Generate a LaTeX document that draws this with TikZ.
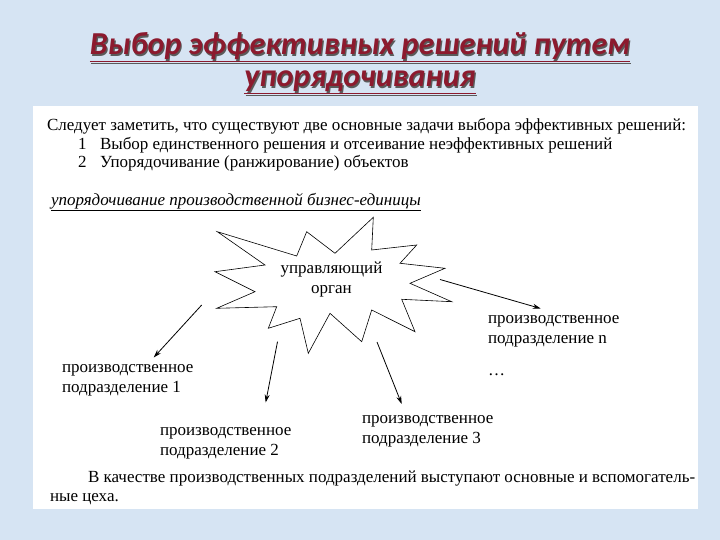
\documentclass[tikz,border=0pt]{standalone}
\usepackage{fontspec}
\setmainfont{Liberation Serif}
\newfontfamily\titlefont{Carlito}
\usetikzlibrary{arrows.meta}

\definecolor{slidebg}{RGB}{214,228,243}
\definecolor{titlered}{RGB}{140,26,46}
\definecolor{titleshade}{RGB}{90,90,90}

\begin{document}
\begin{tikzpicture}[x=1pt,y=-1pt]
	\tikzstyle{every node}=[inner sep=0pt,outer sep=0pt]
	\tikzstyle{headline}=[font=\titlefont\bfseries\itshape\fontsize{32}{38}\selectfont,anchor=base]
	\tikzstyle{body}=[font=\fontsize{17}{20}\selectfont,anchor=base west]
	\tikzstyle{unit}=[font=\fontsize{17}{20}\selectfont,align=left,anchor=base west]
	\tikzstyle{link}=[-{Stealth[length=8pt,width=5pt]},line width=0.8pt]
	
	%% slide
	\useasboundingbox (0,0) rectangle (720,540);
	\fill [slidebg] (0,0) rectangle (720,540);
	\fill [white] (33,106) rectangle (698,509);
	
	%% title
	\node [headline,text=titleshade] at (361.2,56.2) {\underline{Выбор эффективных решений путем}};
	\node [headline,text=titlered] (title1) at (360,55) {\underline{Выбор эффективных решений путем}};
	\node [headline,text=titleshade] at (361.2,88.2) {\underline{упорядочивания}};
	\node [headline,text=titlered] (title2) at (360,87) {\underline{упорядочивания}};
	
	%% text above the scheme
	\node [body] (intro) at (47,131) {Следует заметить, что существуют две основные задачи выбора эффективных решений:};
	\node [body] (num1) at (78,150) {1};
	\node [body] (task1) at (100,150) {Выбор единственного решения и отсеивание неэффективных решений};
	\node [body] (num2) at (78,168) {2};
	\node [body] (task2) at (100,168) {Упорядочивание (ранжирование) объектов};
	\node [body,font=\fontsize{17}{20}\selectfont\itshape] (head) at (51,205.5) {\underline{упорядочивание производственной бизнес-единицы}};
	
	%% star
	\draw [line width=0.6pt] (217.3,231.7) -- (296.7,256) -- (306.7,231.7) -- (335,253.3)
		-- (373.3,217.3) -- (371.7,250) -- (416.7,245) -- (400,263.3)
		-- (445,268.3) -- (410,283.3) -- (451.7,301.7) -- (401.7,299.3)
		-- (415,331.7) -- (371.7,310) -- (361.7,341.7) -- (330,313.3)
		-- (308.3,353.3) -- (300,318.3) -- (268.3,328.3) -- (276.7,306.7)
		-- (216.7,308.3) -- (255,291.7) -- (215,271.7) -- (265,265) -- cycle;
	\node [unit,align=center,anchor=base] (organ) at (331.5,293.5) {управляющий\\орган};
	
	%% units (base = last line)
	\node [unit] (unit1) at (62,392.5) {производственное\\подразделение 1};
	\node [unit] (unit2) at (160,455.5) {производственное\\подразделение 2};
	\node [unit] (unit3) at (362,443) {производственное\\подразделение 3};
	\node [unit] (unitn) at (488,343.5) {производственное\\подразделение n};
	\node [body] (dots) at (488,375) {\dots};
	
	%% arrows
	\coordinate (s1) at (201.7,305);
	\coordinate (s2) at (277.5,341.7);
	\coordinate (s3) at (377,342);
	\coordinate (sn) at (440,279.5);
	\draw [link] (s1) -- ([xshift=26pt,yshift=7pt]unit1.north);
	\draw [link] (s2) -- ([xshift=40pt,yshift=25pt]unit2.north);
	\draw [link] (s3) -- ([xshift=-26pt,yshift=11pt]unit3.north);
	\draw [link] (sn) -- ([xshift=-13pt,yshift=7pt]unitn.north);
	
	%% text below the scheme
	\node [body] (outro) at (88,482) {В качестве производственных подразделений выступают основные и вспомогатель-};
	\node [body] (outro2) at (50,501) {ные цеха.};

\end{tikzpicture}
\end{document}
